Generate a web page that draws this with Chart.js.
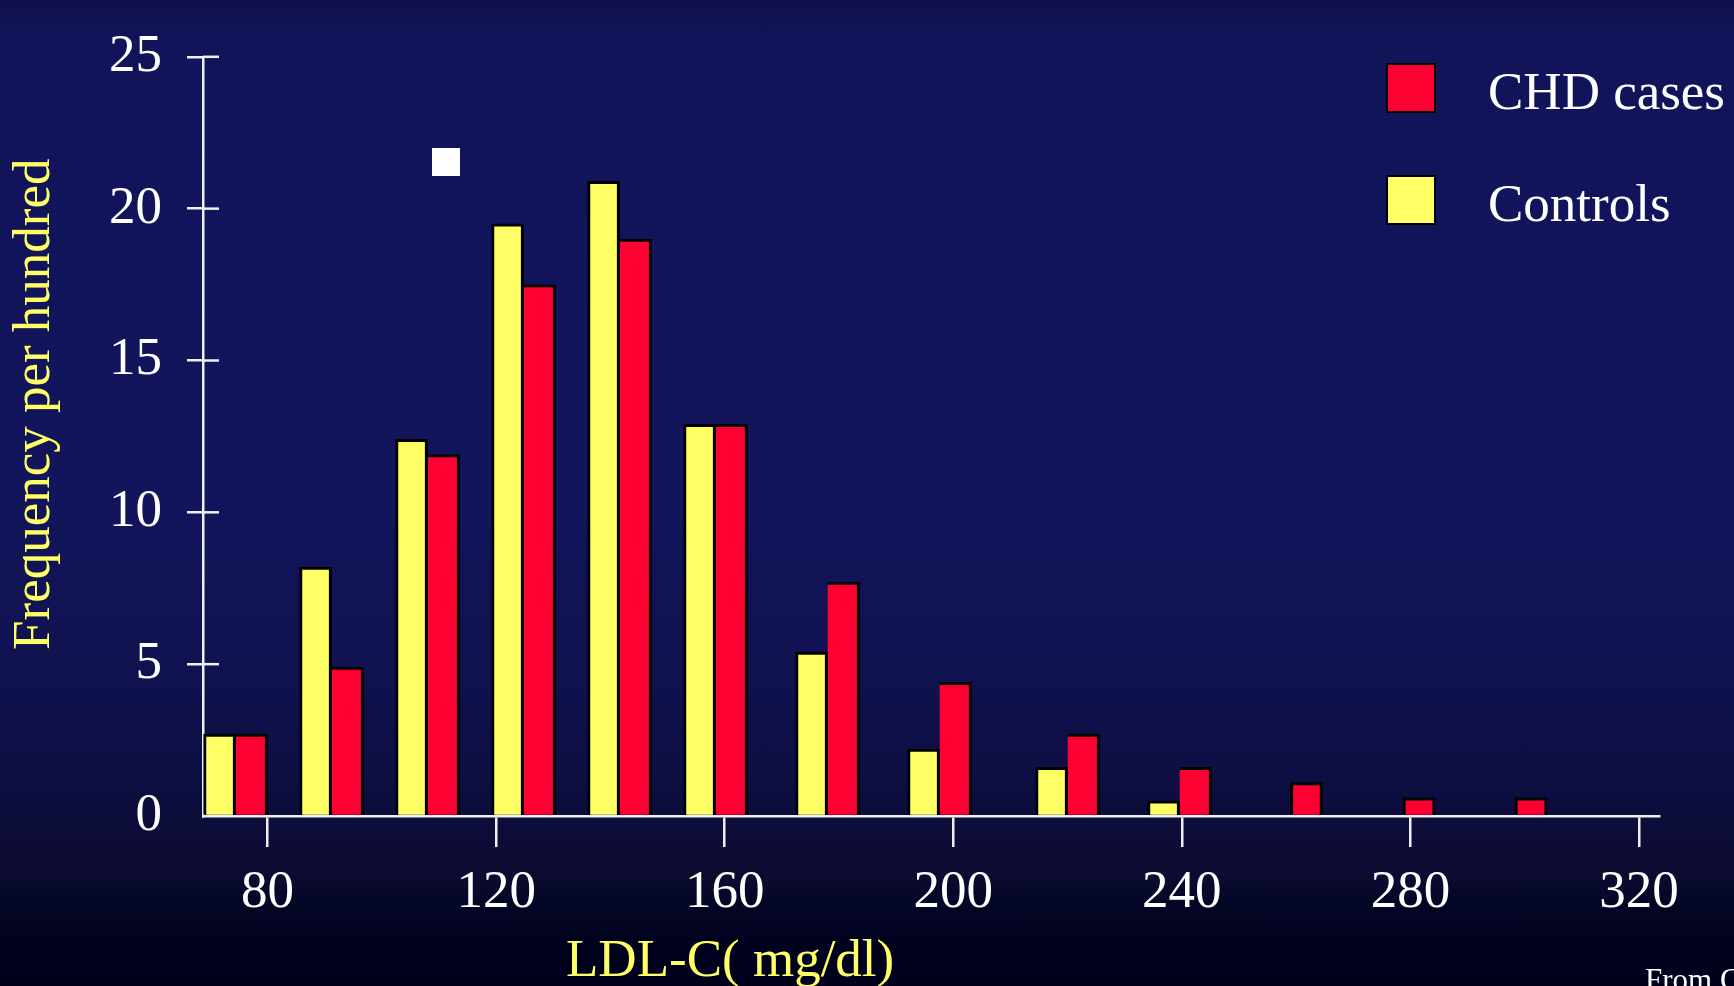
<!DOCTYPE html>
<html>
<head>
<meta charset="utf-8">
<title>LDL-C: CHD cases vs controls</title>
<script src="https://cdn.jsdelivr.net/npm/chart.js@4.4.1/dist/chart.umd.min.js"></script>
<style>
    html, body {
        margin: 0;
        padding: 0;
        width: 1734px;
        height: 986px;
        overflow: hidden;
    }
    body {
        position: relative;
        font-family: 'Liberation Serif', 'Times New Roman', serif;
        background: linear-gradient(to bottom,
            #10104a 0%, #12145a 4%, #12155c 50%, #101250 68%,
            #0d0e40 80%, #0b0b30 89%, #030726 91.5%, #01021f 95%, #00001c 100%);
    }
    #khung {
        position: absolute;
        left: 0;
        top: 0;
        width: 1734px;
        height: 986px;
    }
    #chu-thich {
        position: absolute;
        left: 1386px;
        top: 63px;
    }
    .dong {
        position: relative;
        height: 50px;
        margin-bottom: 62px;
    }
    .o-mau {
        position: absolute;
        left: 0;
        top: 0;
        width: 50px;
        height: 50px;
        box-sizing: border-box;
        border: 2.5px solid #000;
    }
    .nhan {
        position: absolute;
        left: 102px;
        top: 2px;
        font-size: 53px;
        line-height: 1;
        color: #fff;
        white-space: nowrap;
    }
    .tieu-de-truc {
        position: absolute;
        font-size: 53px;
        line-height: 1;
        color: #ffff66;
        white-space: nowrap;
    }
    #truc-x {
        left: 566px;
        top: 932px;
    }
    #truc-y {
        left: 0;
        top: 0;
        transform-origin: 0 0;
        transform: translate(5px, 650px) rotate(-90deg);
    }
    #cham {
        position: absolute;
        left: 432px;
        top: 148px;
        width: 28px;
        height: 28px;
        background: #fff;
    }
    #nguon {
        position: absolute;
        left: 1645px;
        top: 964px;
        font-size: 31px;
        line-height: 1;
        color: #fff;
        white-space: nowrap;
    }
</style>
</head>
<body>
<div id="khung"><canvas id="bieu-do"></canvas></div>
<div id="chu-thich"></div>
<div id="truc-x" class="tieu-de-truc">LDL-C( mg/dl)</div>
<div id="truc-y" class="tieu-de-truc">Frequency per hundred</div>
<div id="cham"></div>
<div id="nguon">From C</div>
<script>
// LDL-C bins (mg/dl) as placed in the picture
const binCenters = [74.4, 91.2, 108, 124.8, 141.6, 158.4, 178, 197.6, 220, 239.6, 259, 278.7, 298.3];
// frequency per hundred
const controls = [2.7, 8.2, 12.4, 19.5, 20.9, 12.9, 5.4, 2.2, 1.6, 0.5, null, null, null];
const chdCases = [2.7, 4.9, 11.9, 17.5, 19.0, 12.9, 7.7, 4.4, 2.7, 1.6, 1.1, 0.6, 0.6];
const xTicks = [80, 120, 160, 200, 240, 280, 320];
const yTicks = [0, 5, 10, 15, 20, 25];

const FONT = "'Liberation Serif', 'Times New Roman', serif";
const AXIS_COLOR = '#f0f0f4';

// y ticks in the picture cross the axis, draw the inner half
const tickCross = {
    id: 'tickCross',
    afterDatasetsDraw(chart) {
        const y = chart.scales.y;
        const c = chart.ctx;
        c.save();
        c.strokeStyle = AXIS_COLOR;
        c.lineWidth = 2.5;
        yTicks.forEach(v => {
            if (v === 0) return;
            const py = y.getPixelForValue(v);
            c.beginPath();
            c.moveTo(y.right, py);
            c.lineTo(y.right + 16, py);
            c.stroke();
        });
        c.restore();
    }
};

function toPoints(values) {
    return binCenters.map((x, i) => ({ x: x, y: values[i] }));
}

const ctx = document.getElementById('bieu-do').getContext('2d');
const chart = new Chart(ctx, {
    type: 'bar',
    data: {
        datasets: [
            {
                label: 'Controls',
                data: toPoints(controls),
                backgroundColor: '#ffff66',
                borderColor: '#000',
                borderWidth: { top: 3, left: 3, right: 3, bottom: 0 },
                barThickness: 32
            },
            {
                label: 'CHD cases',
                data: toPoints(chdCases),
                backgroundColor: '#ff0033',
                borderColor: '#000',
                borderWidth: c => ({
                    top: 3,
                    right: 3,
                    bottom: 0,
                    left: controls[c.dataIndex] == null ? 3 : 0
                }),
                barThickness: 32
            }
        ]
    },
    options: {
        responsive: true,
        maintainAspectRatio: false,
        animation: false,
        layout: { padding: { top: 39, right: 75, bottom: 0, left: 0 } },
        plugins: {
            legend: { display: false },
            tooltip: { enabled: false }
        },
        scales: {
            x: {
                type: 'linear',
                min: 68.7,
                max: 323.5,
                offset: false,
                afterBuildTicks: s => { s.ticks = xTicks.map(v => ({ value: v })); },
                afterFit: s => { s.height = 170; },
                border: { color: AXIS_COLOR, width: 2.5 },
                grid: {
                    offset: false,
                    drawOnChartArea: false,
                    tickLength: 31,
                    color: AXIS_COLOR,
                    lineWidth: 2.5
                },
                ticks: {
                    color: '#fff',
                    font: { family: FONT, size: 53 },
                    padding: 14,
                    maxRotation: 0,
                    autoSkip: false
                }
            },
            y: {
                min: 0,
                max: 25,
                afterBuildTicks: s => { s.ticks = yTicks.map(v => ({ value: v })); },
                afterFit: s => { s.width = 203; },
                border: { color: AXIS_COLOR, width: 2.5 },
                grid: {
                    drawOnChartArea: false,
                    tickLength: 16,
                    color: c => (c.tick && c.tick.value === 0) ? 'rgba(0,0,0,0)' : AXIS_COLOR,
                    lineWidth: 2.5
                },
                ticks: {
                    color: '#fff',
                    font: { family: FONT, size: 53 },
                    padding: 25,
                    autoSkip: false
                }
            }
        }
    },
    plugins: [tickCross]
});

// legend built from the chart's own legend items, CHD cases first
function hienThiChuThich(chart) {
    const items = Chart.defaults.plugins.legend.labels.generateLabels(chart).reverse();
    let html = '';
    items.forEach(item => {
        html += `
            <div class="dong">
                <div class="o-mau" style="background:${item.fillStyle}"></div>
                <div class="nhan">${item.text}</div>
            </div>
        `;
    });
    document.getElementById('chu-thich').innerHTML = html;
}
hienThiChuThich(chart);
</script>
</body>
</html>
